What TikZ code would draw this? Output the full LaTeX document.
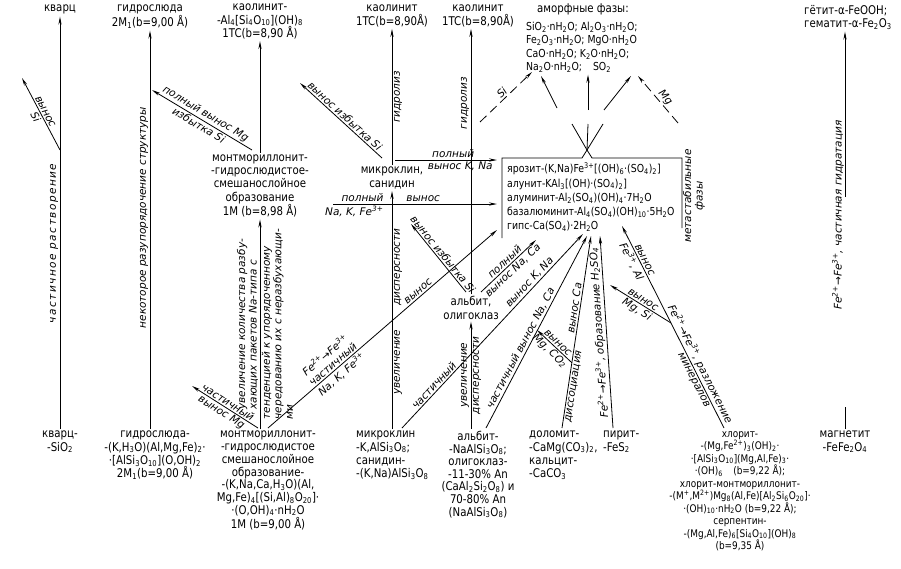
\documentclass[tikz,border=0pt]{standalone}
\usepackage{fontspec}
\setmainfont{DejaVu Sans}
\newfontfamily\mnrfont{DejaVu Sans}[FakeStretch=0.85]
\usetikzlibrary{arrows.meta,calc}
\newcommand{\sbs}[1]{\textsubscript{#1}}
\newcommand{\sps}[1]{\textsuperscript{#1}}

\begin{document}
\begin{tikzpicture}[x=1pt,y=-1pt,
  mnr/.style={font=\mnrfont\fontsize{12}{13.2}\selectfont,align=center,inner sep=2pt},
  lab/.style={font=\itshape\fontsize{10.5}{11.5}\selectfont,inner sep=1.5pt},
  ln/.style={line width=0.8pt},
  arr/.style={ln,-{Stealth[length=8pt,width=3.2pt]}},
  dsh/.style={arr,dash pattern=on 9pt off 5pt}]
\useasboundingbox (0,0) rectangle (901,568);
% top row
\node[mnr,anchor=north] (qtzT) at (60,3) {кварц};
\node[mnr,anchor=north] (hmT) at (150,3) {гидрослюда\\2M\sbs{1}(b=9,00 Å)};
\node[mnr,anchor=north] (kaolA) at (260,2) {каолинит-\\-Al\sbs{4}[Si\sbs{4}O\sbs{10}](OH)\sbs{8}\\1TC(b=8,90 Å)};
\node[mnr,anchor=north] (kaolB) at (392,3) {каолинит\\1TC(b=8,90Å)};
\node[mnr,anchor=north] (kaolC) at (478,3) {каолинит\\1TC(b=8,90Å)};
\node[mnr,anchor=north west,align=left,font=\mnrfont\fontsize{11}{13.4}\selectfont] (amorph) at (524,2)
  {\quad{\fontsize{12}{13}\selectfont аморфные фазы:}\\[4pt]SiO\sbs{2}·nH\sbs{2}O; Al\sbs{2}O\sbs{3}·nH\sbs{2}O;\\Fe\sbs{2}O\sbs{3}·nH\sbs{2}O; MgO·nH\sbs{2}O\\CaO·nH\sbs{2}O; K\sbs{2}O·nH\sbs{2}O;\\Na\sbs{2}O·nH\sbs{2}O;\quad SO\sbs{2}};
\node[mnr,anchor=north west,align=left] (goeth) at (802,3) {гётит-α-FeOOH;\\гематит-α-Fe\sbs{2}O\sbs{3}};
% middle row
\node[mnr] (montM) at (260,186) {монтмориллонит-\\-гидрослюдистое-\\смешанослойное\\образование\\1M (b=8,98 Å)};
\node[mnr] (micM) at (392,178) {микроклин,\\санидин};
\node[mnr] (albM) at (471,308) {альбит,\\олигоклаз};
\node[mnr,anchor=north west,align=left,font=\mnrfont\fontsize{11}{14.2}\selectfont] (sulf) at (505,161)
  {ярозит-(K,Na)Fe\sps{3+}[(OH)\sbs{6}·(SO\sbs{4})\sbs{2}]\\алунит-KAl\sbs{3}[(OH)·(SO\sbs{4})\sbs{2}]\\алуминит-Al\sbs{2}(SO\sbs{4})(OH)\sbs{4}·7H\sbs{2}O\\базалюминит-Al\sbs{4}(SO\sbs{4})(OH)\sbs{10}·5H\sbs{2}O\\гипс-Ca(SO\sbs{4})·2H\sbs{2}O};
\node[lab,rotate=90,align=center] (meta) at (694,196) {метастабильные\\фазы};
\coordinate (tip) at (587,150);
\draw[ln] (502,238) -- (502,158) -- (582,158) -- (tip) -- (592,158) -- (682,158) -- (682,228);
% bottom row
\node[mnr,anchor=north] (qtzB) at (60,429) {кварц-\\-SiO\sbs{2}};
\node[mnr,anchor=north] (hmB) at (155,429) {гидрослюда-\\-(K,H\sbs{3}O)(Al,Mg,Fe)\sbs{2}·\\·[AlSi\sbs{3}O\sbs{10}](O,OH)\sbs{2}\\2M\sbs{1}(b=9,00 Å)};
\node[mnr,anchor=north,font=\mnrfont\fontsize{12}{12.7}\selectfont] (montB) at (268,429) {монтмориллонит-\\-гидрослюдистое\\смешанослойное\\образование-\\-(K,Na,Ca,H\sbs{3}O)(Al,\\Mg,Fe)\sbs{4}[(Si,Al)\sbs{8}O\sbs{20}]·\\·(O,OH)\sbs{4}·nH\sbs{2}O\\1M (b=9,00 Å)};
\node[mnr,anchor=north west,align=left] (micB) at (354,429) {микроклин\\-K,AlSi\sbs{3}O\sbs{8};\\санидин-\\-(K,Na)AlSi\sbs{3}O\sbs{8}};
\node[mnr,anchor=north,font=\mnrfont\fontsize{12}{12.6}\selectfont] (albB) at (478,429) {альбит-\\-NaAlSi\sbs{3}O\sbs{8};\\олигоклаз-\\-11-30\% An\\(CaAl\sbs{2}Si\sbs{2}O\sbs{8}) и\\70-80\% An\\(NaAlSi\sbs{3}O\sbs{8})};
\node[mnr,anchor=north west,align=left] (dolB) at (527,429) {доломит-\\-CaMg(CO\sbs{3})\sbs{2},\\кальцит-\\-CaCO\sbs{3}};
\node[mnr,anchor=north west,align=left] (pyrB) at (601,429) {пирит-\\-FeS\sbs{2}};
\node[mnr,anchor=north,font=\mnrfont\fontsize{10.5}{12.5}\selectfont] (chlB) at (740,429)
  {хлорит-\\-(Mg,Fe\sps{2+})\sbs{3}(OH)\sbs{2}·\\·[AlSi\sbs{3}O\sbs{10}](Mg,Al,Fe)\sbs{3}·\\·(OH)\sbs{6}\quad(b=9,22 Å);\\хлорит-монтмориллонит-\\-(M\sps{+},M\sps{2+})Mg\sbs{8}(Al,Fe)[Al\sbs{2}Si\sbs{6}O\sbs{20}]·\\·(OH)\sbs{10}·nH\sbs{2}O (b=9,22 Å);\\серпентин-\\-(Mg,Al,Fe)\sbs{6}[Si\sbs{4}O\sbs{10}](OH)\sbs{8}\\(b=9,35 Å)};
\node[mnr,anchor=north] (magB) at (845,429) {магнетит\\-FeFe\sbs{2}O\sbs{4}};
% free ends
\coordinate (qS) at (60,150); \coordinate (qSi) at (22,78);
\coordinate (mMg) at (252,150); \coordinate (hMg) at (152,90);
\coordinate (mB1) at (258,428); \coordinate (mB1e) at (192,386);
\coordinate (mB2) at (268,428); \coordinate (sFe) at (497,230);
\coordinate (hS) at (333,204); \coordinate (hE) at (497,204);
\coordinate (mc1) at (382,158); \coordinate (mcSi) at (300,83);
\coordinate (mc2) at (395,160); \coordinate (sKN) at (497,160);
\coordinate (al1) at (466,292); \coordinate (alSi) at (411,224);
\coordinate (al2) at (481,292); \coordinate (alNC) at (536,240);
\coordinate (mcB2) at (402,428); \coordinate (s1) at (583,234);
\coordinate (alB2) at (486,428); \coordinate (s2) at (587,236);
\coordinate (dB) at (562,428); \coordinate (s3) at (591,236);
\coordinate (dMg) at ($(dB)!.34!(s3)$); \coordinate (dMge) at (537,330);
\coordinate (pB) at (613,428); \coordinate (s4) at (600,236);
\coordinate (cB) at (724,428); \coordinate (s5) at (622,226);
\coordinate (fk) at ($(cB)!.52!(s5)$); \coordinate (fkE) at (610,285);
\coordinate (mg1) at ($(magB.north)+(0,-22)$); \coordinate (mg2) at ($(magB.north)+(0,-232)$);
% quartz, hydromica
\draw[arr] (qtzB.north) -- node[lab,sloped,above,pos=.45,font=\itshape\fontsize{10.5}{11.5}\selectfont\addfontfeature{LetterSpace=14}] (tQ) {частичное растворение} (qtzT.south);
\draw[arr] (qS) -- node[lab,sloped,above] (tQa) {вынос} node[lab,sloped,below] (tQb) {Si} (qSi);
\draw[arr] (hmT.south |- hmB.north) -- node[lab,sloped,above,pos=.53] (tH) {некоторое разупорядочение структуры} (hmT.south);
% montmorillonite
\draw[arr] (montM.north) -- (kaolA.south);
\draw[arr] (mMg) -- node[lab,sloped,above] (tMa) {полный вынос Mg} node[lab,sloped,below] (tMb) {избытка Si} (hMg);
\draw[arr] (montM.south |- montB.north) --
  node[lab,sloped,above,align=left,pos=.5] (tMl) {увеличение количества разбу-\\хающих пакетов Na-типа с}
  node[lab,sloped,below,align=left,pos=.5] (tMr) {тенденцией к упорядоченному\\чередованию их с неразбухающи-\\ми} (montM.south);
\draw[arr] (mB1) -- node[lab,sloped,above] (tMc) {частичный} node[lab,sloped,below] (tMd) {вынос Mg} (mB1e);
\draw[arr] (mB2) -- node[lab,sloped,above,align=center,pos=.3] (tFa) {Fe\sps{2+}→Fe\sps{3+}\\частичный}
  node[lab,sloped,below,pos=.3] (tFb) {Na, K, Fe\sps{3+}} node[lab,sloped,above,pos=.67] (tFc) {вынос} (sFe);
\draw[arr] (hS) -- node[lab,above,pos=.18] (tNa) {полный} node[lab,above,pos=.55] (tNb) {вынос}
  node[lab,below,pos=.13] (tNc) {Na, K, Fe\sps{3+}} (hE);
% microcline
\draw[arr] (micM.south |- micB.north) -- node[lab,sloped,below,pos=.28] (tDa) {увеличение}
  node[lab,sloped,below,pos=.68] (tDb) {дисперсности} (micM.south);
\draw[arr] (micM.north) -- node[lab,sloped,below] (tG1) {гидролиз} (kaolB.south);
\draw[arr] (mc1) -- node[lab,sloped,above] (tSi1) {вынос избытка Si} (mcSi);
\draw[arr] (mc2) -- node[lab,above,pos=.57] (tKa) {полный} node[lab,below,pos=.64] (tKb) {вынос K, Na} (sKN);
\draw[arr] (mcB2) -- node[lab,sloped,above,pos=.2] (tPa) {частичный} node[lab,sloped,above,pos=.73] (tPb) {вынос K, Na} (s1);
% albite
\draw[arr] (albM.north) -- node[lab,sloped,above,pos=.72] (tG2) {гидролиз} (albM.north |- kaolC.south);
\draw[arr] (al1) -- node[lab,sloped,above] (tSi2) {вынос избытка Si} (alSi);
\draw[arr] (al2) -- node[lab,sloped,above] (tNCa) {полный} node[lab,sloped,below] (tNCb) {вынос Na, Ca} (alNC);
\draw[arr] (albM.south |- albB.north) -- node[lab,sloped,above] (tUa) {увеличение} node[lab,sloped,below] (tUb) {дисперсности} (albM.south);
\draw[arr] (alB2) -- node[lab,sloped,above,pos=.4] (tPc) {частичный вынос Na, Ca} (s2);
% dolomite, pyrite, chlorite
\draw[arr] (dB) -- node[lab,sloped,below,pos=.22] (tDs) {диссоциация} node[lab,sloped,above,pos=.62] (tCa) {вынос Ca} (s3);
\draw[arr] (dMg) -- node[lab,sloped,above] (tMg1) {вынос} node[lab,sloped,below] (tMg2) {Mg, CO\sbs{2}} (dMge);
\draw[arr] (pB) -- node[lab,sloped,allow upside down,above,pos=.5] (tPy) {Fe\sps{2+}→Fe\sps{3+}, образование H\sbs{2}SO\sbs{4}} (s4);
\draw[arr] (cB) -- node[lab,sloped,above,pos=.3] (tCl1) {Fe\sps{2+}→Fe\sps{3+}, разложение}
  node[lab,sloped,below,pos=.25] (tCl2) {минералов} node[lab,sloped,above,pos=.82] (tCl3) {вынос}
  node[lab,sloped,below,pos=.84] (tCl4) {Fe\sps{3+}, Al} (s5);
\draw[arr] (fk) -- node[lab,sloped,above] (tB1) {вынос} node[lab,sloped,below] (tB2) {Mg, Si} (fkE);
% magnetite
\draw[ln] (magB.north) -- (mg1);
\draw[arr] (mg2) -- (mg2 |- goeth.south);
\node[lab,rotate=90] (tGt) at (838,215) {Fe\sps{2+}→Fe\sps{3+}, частичная гидратация};
% amorphous phases
\foreach \n/\e in {a/572,b/588,c/603} {
  \coordinate (fan\n) at (\e,124);
  \draw[ln] (tip) -- (fan\n);
}
\coordinate (ua1) at (557,108); \coordinate (ua2) at (541,76);
\coordinate (ub1) at (588,110); \coordinate (uc1) at (604,110); \coordinate (uc2) at (631,76);
\draw[arr] (ua1) -- (ua2);
\draw[arr] (ub1) -- (ub1 |- amorph.south);
\draw[arr] (uc1) -- (uc2);
\coordinate (dSi1) at (480,122); \coordinate (dSi2) at (532,72);
\coordinate (dMg1) at (678,123); \coordinate (dMg2) at (638,76);
\draw[dsh] (dSi1) -- node[lab,sloped,above] (tSi) {Si} (dSi2);
\draw[dsh] (dMg1) -- node[lab,sloped,above,pos=.45] (tMg) {Mg} (dMg2);
\end{tikzpicture}
\end{document}
